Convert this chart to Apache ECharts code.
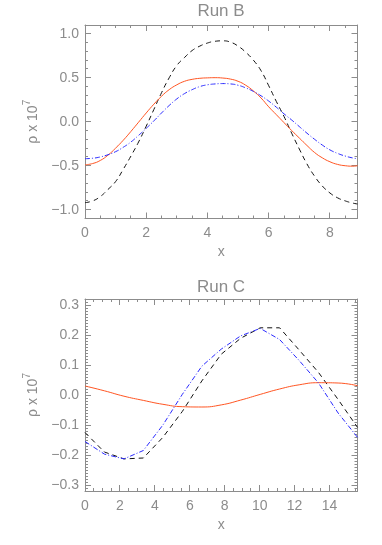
<!DOCTYPE html>
<html><head><meta charset="utf-8">
<script src="https://cdn.jsdelivr.net/npm/echarts@6/dist/echarts.min.js"></script>
<style>html,body{margin:0;padding:0;background:#fff}#c{width:382px;height:545px}</style>
</head><body><div id="c"></div>
<script>
// ---------- Run B data ----------
const titleB = 'Run B';
const xB = [0,0.25,0.5,0.75,1,1.25,1.5,1.75,2,2.25,2.5,2.75,3,3.25,3.5,3.75,4,4.25,4.5,4.75,5,5.25,5.5,5.75,6,6.25,6.5,6.75,7,7.25,7.5,7.75,8,8.25,8.5,8.75,8.9];
const blackB = [-0.92,-0.90,-0.85,-0.77,-0.68,-0.54,-0.39,-0.23,-0.05,0.14,0.33,0.50,0.64,0.73,0.81,0.86,0.895,0.915,0.92,0.905,0.86,0.79,0.70,0.58,0.41,0.23,0.06,-0.13,-0.31,-0.48,-0.62,-0.73,-0.81,-0.865,-0.90,-0.925,-0.935];
const orangeB = [-0.49,-0.475,-0.44,-0.38,-0.30,-0.21,-0.11,-0.005,0.10,0.20,0.29,0.365,0.42,0.46,0.482,0.494,0.499,0.501,0.497,0.485,0.46,0.415,0.35,0.27,0.17,0.08,-0.01,-0.10,-0.185,-0.27,-0.35,-0.41,-0.455,-0.485,-0.50,-0.505,-0.50];
const blueB = [-0.42,-0.415,-0.40,-0.375,-0.34,-0.29,-0.23,-0.155,-0.075,0.01,0.10,0.185,0.26,0.32,0.365,0.40,0.42,0.43,0.434,0.43,0.415,0.385,0.345,0.295,0.235,0.165,0.09,0.02,-0.055,-0.13,-0.20,-0.265,-0.32,-0.36,-0.39,-0.412,-0.42];
const xLabelsB = [0,2,4,6,8];
const yLabelsB = [-1,-0.5,0,0.5,1];

// ---------- Run C data ----------
const titleC = 'Run C';
const xC = [0,1.11,2.23,3.34,4.46,5.57,6.69,7.8,8.91,10.03,11.14,12.26,13.37,14.49,15.6];
const blackC = [-0.125,-0.19,-0.213,-0.21,-0.141,-0.055,0.047,0.136,0.189,0.224,0.224,0.15,0.075,-0.015,-0.108];
const orangeC = [0.030,0.014,-0.004,-0.018,-0.031,-0.039,-0.040,-0.033,-0.017,0.002,0.020,0.034,0.041,0.040,0.031];
const blueC = [-0.155,-0.197,-0.213,-0.185,-0.10,0.002,0.096,0.153,0.197,0.222,0.185,0.115,0.04,-0.06,-0.141];
const xLabelsC = [0,2,4,6,8,10,12,14];
const yLabelsC = [-0.3,-0.2,-0.1,0,0.1,0.2,0.3];

const AX = '#8c8c8c';
const FONT = 'Liberation Sans';
const BLACK = '#111111', ORANGE = '#ff5522', BLUE = '#2a2aff';

function fmtY(v) { return (v < 0 ? '\u2212' : '') + Math.abs(v).toFixed(1); }
function fmtX(v) { return String(Math.round(v)); }

const grids = [], xAxes = [], yAxes = [];
const yName = '{a|\u03c1 x 10}{b|7}';

function mainAxis(gi, dim, pos, min, max, labels, fmt, name, nameGap) {
  const a = {
    gridIndex: gi, type: 'value', min: min, max: max, position: pos,
    splitLine: { show: false },
    axisLine: { show: true, onZero: false, lineStyle: { color: AX, width: 1 } },
    axisTick: { show: false },
    axisLabel: { show: false }
  };
  if (labels) {
    a.axisLabel = { show: true, customValues: labels, formatter: fmt, color: AX, fontFamily: FONT, fontSize: 14, margin: dim === 'x' ? 8 : 6 };
    a.name = name; a.nameLocation = 'middle'; a.nameGap = nameGap;
    if (dim === 'y') {
      a.nameRotate = 90;
      a.nameTextStyle = { rich: {
        a: { color: AX, fontFamily: FONT, fontSize: 14, lineHeight: 18, verticalAlign: 'bottom' },
        b: { color: AX, fontFamily: FONT, fontSize: 10, lineHeight: 18, verticalAlign: 'top' } } };
    } else {
      a.nameTextStyle = { color: AX, fontFamily: FONT, fontSize: 14 };
    }
  }
  return a;
}

function panel(rect, xr, yr, xLabels, yLabels) {
  const gi = grids.length;
  grids.push(rect);
  const xi = xAxes.length;
  xAxes.push(mainAxis(gi, 'x', 'bottom', xr[0], xr[1], xLabels, fmtX, 'x', 27));
  xAxes.push(mainAxis(gi, 'x', 'top', xr[0], xr[1], null));
  const yi = yAxes.length;
  yAxes.push(mainAxis(gi, 'y', 'left', yr[0], yr[1], yLabels, fmtY, yName, 40));
  yAxes.push(mainAxis(gi, 'y', 'right', yr[0], yr[1], null));
  return { xi: xi, yi: yi, xr: xr, yr: yr };
}

const pB = panel({ left: 85, top: 25, width: 272.5, height: 193.5 }, [0, 8.9], [-1.1, 1.1], xLabelsB, yLabelsB);
const pC = panel({ left: 85, top: 299, width: 272.5, height: 192 }, [0, 15.6], [-0.32, 0.32], xLabelsC, yLabelsC);

function pairs(xs, ys) { return xs.map((x, i) => [x, ys[i]]); }
function line(p, xs, ys, color, type, smooth) {
  return { type: 'line', xAxisIndex: p.xi, yAxisIndex: p.yi, data: pairs(xs, ys), showSymbol: false, symbol: 'none',
    smooth: smooth, lineStyle: { color: color, width: 1, type: type }, itemStyle: { color: color }, animation: false, silent: true, z: 3 };
}
const dataSeries = [
  line(pB, xB, blackB, BLACK, [5, 4], true),
  line(pB, xB, orangeB, ORANGE, 'solid', true),
  line(pB, xB, blueB, BLUE, [5, 2, 1, 2], true),
  line(pC, xC, blackC, BLACK, [5, 4], false),
  line(pC, xC, orangeC, ORANGE, 'solid', true),
  line(pC, xC, blueC, BLUE, [5, 2, 1, 2], false)
];

const chart = echarts.init(document.getElementById('c'), null, { renderer: 'canvas' });
const baseOption = {
  backgroundColor: '#ffffff',
  animation: false,
  title: [
    { text: titleB, left: 221, top: 3, padding: 0, textAlign: 'center', textStyle: { color: AX, fontFamily: FONT, fontSize: 17, fontWeight: 'normal' } },
    { text: titleC, left: 221, top: 279, padding: 0, textAlign: 'center', textStyle: { color: AX, fontFamily: FONT, fontSize: 17, fontWeight: 'normal' } }
  ],
  grid: grids,
  xAxis: xAxes,
  yAxis: yAxes,
  series: dataSeries
};
chart.setOption(baseOption);

// ---- inward tick marks on all four sides, placed through the axes' own scales ----
function tickValues(min, max, step) {
  const out = [];
  const k0 = Math.ceil(min / step - 1e-6), k1 = Math.floor(max / step + 1e-6);
  for (let k = k0; k <= k1; k++) out.push(Math.round(k * step * 100000) / 100000);
  return out;
}
function tickSeries(p, xMaj, xMin, yMaj, yMin) {
  const finder = { xAxisIndex: p.xi, yAxisIndex: p.yi };
  const toPx = d => chart.convertToPixel(finder, d);
  const fromPx = q => chart.convertFromPixel(finder, q);
  const snap = c => Math.round(c - 0.5) + 0.5;
  const data = [];
  const gap = ['-', '-'];
  const addX = (v, len) => {
    const a = toPx([v, p.yr[0]]), b = toPx([v, p.yr[1]]);
    const px = snap(a[0]);
    data.push(fromPx([px, a[1]]), fromPx([px, a[1] - len]), gap);
    data.push(fromPx([px, b[1]]), fromPx([px, b[1] + len]), gap);
  };
  const addY = (v, len) => {
    const a = toPx([p.xr[0], v]), b = toPx([p.xr[1], v]);
    const py = snap(a[1]);
    data.push(fromPx([a[0], py]), fromPx([a[0] + len, py]), gap);
    data.push(fromPx([b[0], py]), fromPx([b[0] - len, py]), gap);
  };
  tickValues(p.xr[0], p.xr[1], xMin).forEach(v => addX(v, 3));
  tickValues(p.xr[0], p.xr[1], xMaj).forEach(v => addX(v, 6));
  tickValues(p.yr[0], p.yr[1], yMin).forEach(v => addY(v, 3));
  tickValues(p.yr[0], p.yr[1], yMaj).forEach(v => addY(v, 6));
  return { type: 'line', xAxisIndex: p.xi, yAxisIndex: p.yi, data: data, connectNulls: false,
    showSymbol: false, symbol: 'none', silent: true, animation: false, z: 2, clip: false,
    lineStyle: { color: AX, width: 1, type: 'solid' }, itemStyle: { color: AX } };
}

chart.setOption({
  series: dataSeries.concat([
    tickSeries(pB, 2, 0.5, 0.5, 0.1),
    tickSeries(pC, 2, 0.5, 0.1, 0.01)
  ])
});
</script>
</body></html>
